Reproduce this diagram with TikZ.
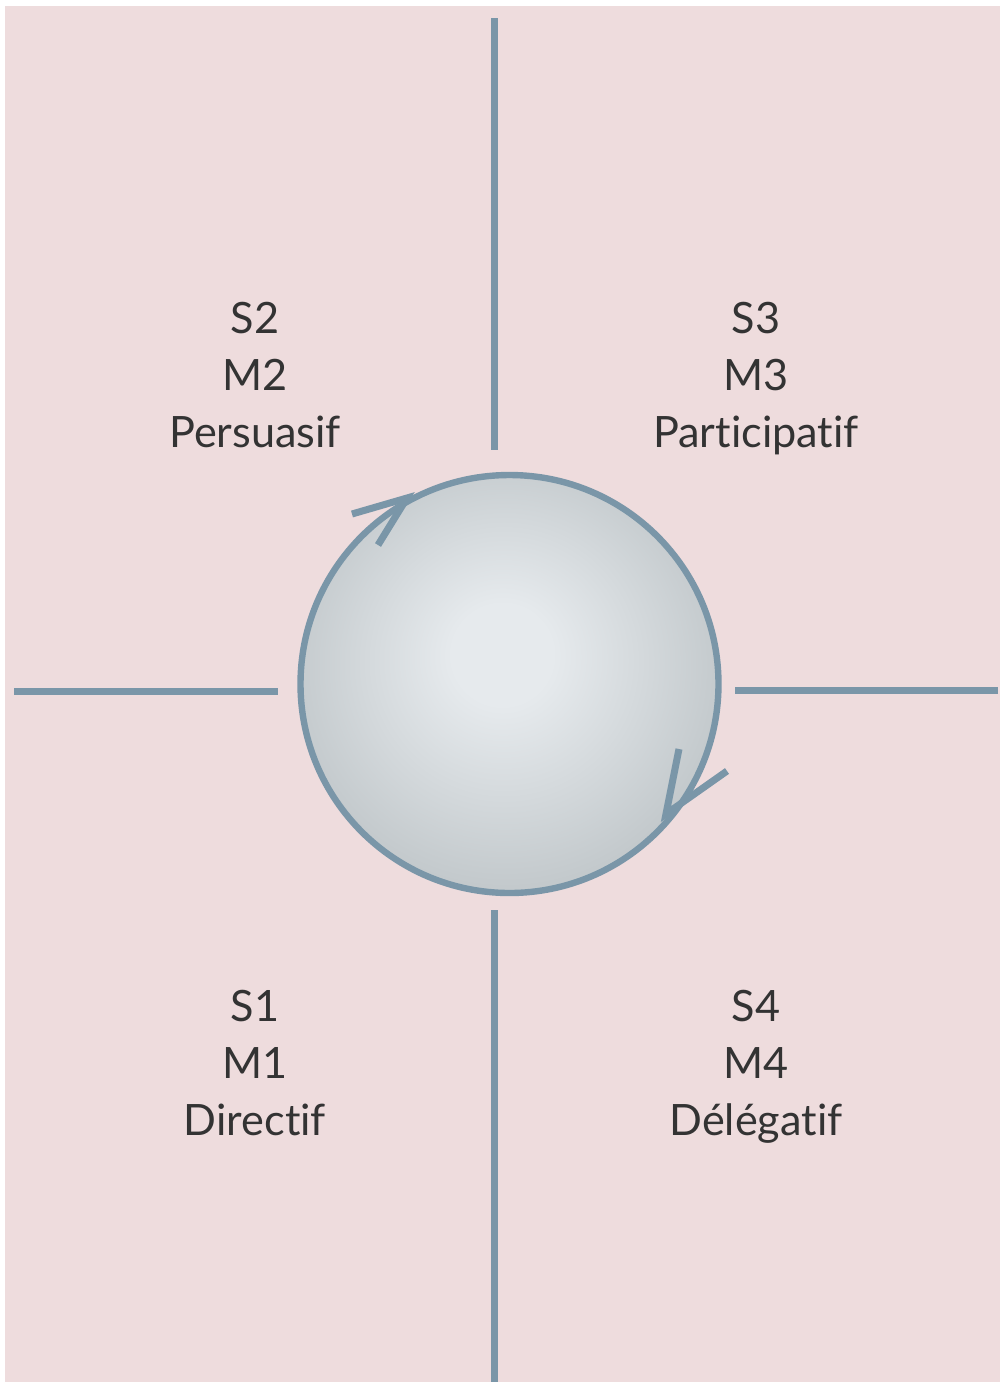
\documentclass[tikz,border=0pt]{standalone}
\usepackage{fontspec}
\setmainfont[Ligatures={NoCommon,NoRare,NoDiscretionary},Contextuals={NoAlternate}]{Lato}
\definecolor{bgpink}{RGB}{238,220,221}
\definecolor{steel}{RGB}{122,150,168}
\definecolor{ballin}{RGB}{230,234,237}
\definecolor{ballout}{RGB}{178,185,188}
\definecolor{txt}{RGB}{51,51,51}
\pgfdeclareradialshading{ball}{\pgfpoint{-1bp}{4bp}}{color(0bp)=(ballin); color(6bp)=(ballin); color(36bp)=(ballout); color(50bp)=(ballout)}
\begin{document}
\begin{tikzpicture}[x=0.5pt,y=-0.5pt,
  axis/.style={draw=steel,line width=3.5pt},
  tip/.style={draw=steel,line width=3.5pt},
  lbl/.style={text=txt,font=\fontsize{21.6}{28.5}\selectfont,align=center,inner sep=0pt}]
\useasboundingbox (0,0) rectangle (1000,1382);
\fill[bgpink] (5,6) rectangle (1000,1382);
% axes
\coordinate (vt1) at (494,18);
\coordinate (vt2) at (494,450);
\coordinate (vb1) at (494,910);
\coordinate (vb2) at (494,1382);
\coordinate (hl1) at (14,691);
\coordinate (hl2) at (278,691);
\coordinate (hr1) at (735,690);
\coordinate (hr2) at (998,690);
\draw[axis] (vt1) -- (vt2);
\draw[axis] (vb1) -- (vb2);
\draw[axis] (hl1) -- (hl2);
\draw[axis] (hr1) -- (hr2);
% circle
\node[circle,inner sep=0pt,draw=steel,line width=3.2pt,shading=ball,minimum size=209pt] (ball) at (509.5,684) {};
% arrowheads
\coordinate (a1) at (407,498);
\coordinate (a1l) at (352,514);
\coordinate (a1r) at (378,545);
\draw[tip] (a1l) -- (a1) -- (a1r);
\coordinate (a2) at (666,814);
\coordinate (a2l) at (679,749);
\coordinate (a2r) at (727,771);
\draw[tip] (a2l) -- (a2) -- (a2r);
% labels
\node[lbl] (s2) at (255,379) {\vphantom{Dé}S2\\M2\\Persuasif\vphantom{gp}};
\node[lbl] (s3) at (756,379) {\vphantom{Dé}S3\\M3\\Participatif\vphantom{gp}};
\node[lbl] (s1) at (255,1067) {\vphantom{Dé}S1\\M1\\Directif\vphantom{gp}};
\node[lbl] (s4) at (756,1067) {\vphantom{Dé}S4\\M4\\Délégatif\vphantom{gp}};
\end{tikzpicture}
\end{document}
